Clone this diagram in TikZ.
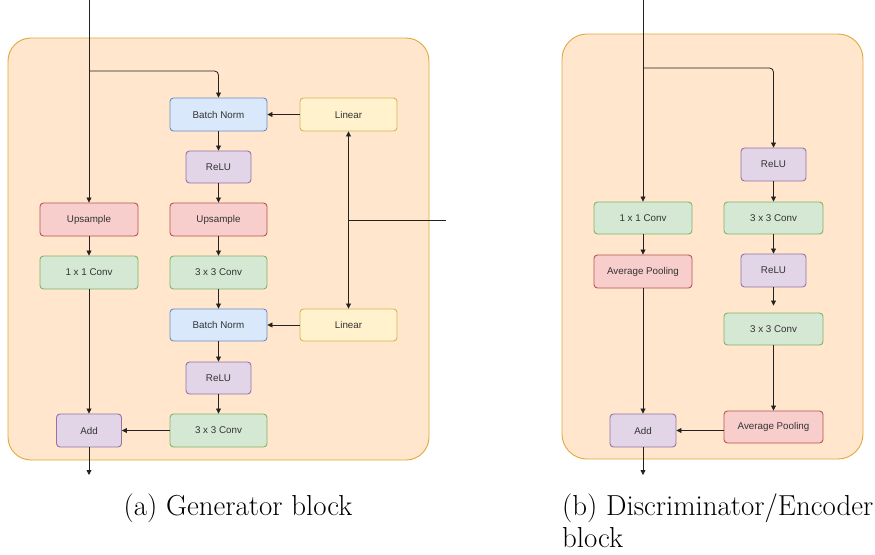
\documentclass[tikz,border=0pt]{standalone}
\usepackage{fontspec}
\newfontfamily\boxfont{Liberation Sans}
\usetikzlibrary{arrows.meta}
\definecolor{bluef}{HTML}{DAE8FC}\definecolor{blued}{HTML}{6C8EBF}
\definecolor{yelf}{HTML}{FFF2CC}\definecolor{yeld}{HTML}{D6B656}
\definecolor{redf}{HTML}{F8CECC}\definecolor{redd}{HTML}{B85450}
\definecolor{grnf}{HTML}{D5E8D4}\definecolor{grnd}{HTML}{82B366}
\definecolor{purf}{HTML}{E1D5E7}\definecolor{purd}{HTML}{9673A6}
\definecolor{orf}{HTML}{FFE6CC}\definecolor{ord}{HTML}{E0A93A}
\definecolor{txt}{HTML}{333333}
\definecolor{ln}{HTML}{222222}
\tikzset{
  blk/.style={rounded corners=3.5pt, line width=0.9pt, inner sep=0pt,
    minimum height=33pt, font=\boxfont\fontsize{9.8}{11}\selectfont, text=txt},
  wide/.style={blk, minimum width=97pt},
  narrow/.style={blk, minimum width=65pt},
  bnbox/.style={wide, fill=bluef, draw=blued},
  linbox/.style={wide, fill=yelf, draw=yeld},
  redbox/.style={wide, fill=redf, draw=redd},
  grnbox/.style={wide, fill=grnf, draw=grnd},
  purbox/.style={narrow, fill=purf, draw=purd},
  arr/.style={draw=ln, line width=0.8pt, -{Triangle[length=5pt,width=5pt]}},
  plain/.style={draw=ln, line width=0.8pt},
  frame/.style={fill=orf, draw=ord, line width=0.9pt},
  captext/.style={font=\fontsize{28.9}{32}\selectfont, inner sep=0pt}
}
\begin{document}
\begin{tikzpicture}[x=1pt,y=-1pt]
\useasboundingbox (0,0) rectangle (875,554);
\fill[white] (0,0) rectangle (875,554);
% ---------- (a) Generator ----------
\draw[frame, rounded corners=23pt] (8,38) rectangle (429,460);
\node[bnbox]  (gbn1) at (218.5,114.5) {Batch Norm};
\node[linbox] (glin1) at (348.5,114.5) {Linear};
\node[purbox, minimum height=32pt] (grelu1) at (218.5,167) {ReLU};
\node[redbox, minimum width=98pt] (gupl) at (89,219.5) {Upsample};
\node[redbox] (gupr) at (218.5,219.5) {Upsample};
\node[grnbox, minimum width=98pt] (gc1) at (89,272.5) {1 x 1 Conv};
\node[grnbox] (gc3) at (218.5,272.5) {3 x 3 Conv};
\node[bnbox, minimum height=32pt]  (gbn2) at (218.5,325) {Batch Norm};
\node[linbox, minimum height=32pt] (glin2) at (348.5,325) {Linear};
\node[purbox, minimum height=32pt] (grelu2) at (218.5,378) {ReLU};
\node[purbox] (gadd) at (89,430.5) {Add};
\node[grnbox] (gc3b) at (218.5,430.5) {3 x 3 Conv};
\coordinate (gin) at (89,0);
\coordinate (gsplit) at (89,71);
\coordinate (gout) at (89,475);
\coordinate (gcond) at (446,220);
\coordinate (gmid) at (348.5,220);
\draw[arr] (gin) -- (gupl.north);
\draw[arr, rounded corners=4pt] (gsplit) -| (gbn1.north);
\draw[arr] (glin1.west) -- (gbn1.east);
\draw[arr] (gbn1) -- (grelu1);
\draw[arr] (grelu1) -- (gupr);
\draw[arr] (gupr) -- (gc3);
\draw[arr] (gc3) -- (gbn2);
\draw[arr] (glin2.west) -- (gbn2.east);
\draw[arr] (gbn2) -- (grelu2);
\draw[arr] (grelu2) -- (gc3b);
\draw[arr] (gc3b.west) -- (gadd.east);
\draw[arr] (gupl) -- (gc1);
\draw[arr] (gc1.south) -- (gadd.north);
\draw[arr] (gadd.south) -- (gout);
\draw[draw=ln, line width=0.8pt, {Triangle[length=5pt,width=5pt]}-{Triangle[length=5pt,width=5pt]}] (glin1.south) -- (glin2.north);
\draw[plain] (gcond) -- (gmid);
\node[captext, anchor=base] (capa) at (238,515) {(a) Generator block};
% ---------- (b) Discriminator ----------
\draw[frame, rounded corners=25pt] (562,34) rectangle (863,459);
\node[purbox] (drelu1) at (773.5,164.5) {ReLU};
\node[grnbox, minimum width=98pt, minimum height=32pt] (dc1) at (643,218) {1 x 1 Conv};
\node[grnbox, minimum width=99pt, minimum height=32pt] (dc3a) at (773.5,218) {3 x 3 Conv};
\node[redbox, minimum width=98pt] (dap1) at (643,271.5) {Average Pooling};
\node[purbox] (drelu2) at (773.5,270.5) {ReLU};
\node[grnbox, minimum width=99pt, minimum height=32pt] (dc3b) at (773.5,329) {3 x 3 Conv};
\node[redbox, minimum width=99pt, minimum height=32pt] (dap2) at (773.5,427) {Average Pooling};
\node[purbox, minimum width=66pt] (dadd) at (643,430.5) {Add};
\coordinate (din) at (643,0);
\coordinate (dsplit) at (643,68);
\coordinate (dout) at (643,475);
\draw[arr] (din) -- (dc1.north);
\draw[arr, rounded corners=4pt] (dsplit) -| (drelu1.north);
\draw[arr] (drelu1) -- (dc3a);
\draw[arr] (dc3a) -- (drelu2);
\draw[arr, shorten >=7pt] (drelu2) -- (dc3b);
\draw[arr] (dc3b) -- (dap2);
\draw[arr] (dap2.west |- dadd.east) -- (dadd.east);
\draw[arr] (dc1) -- (dap1);
\draw[arr] (dap1.south) -- (dadd.north);
\draw[arr] (dadd.south) -- (dout);
\node[captext, anchor=base west] (capb1) at (562,515) {(b) Discriminator/Encoder};
\node[captext, anchor=base west] (capb2) at (562,547) {block};
\end{tikzpicture}
\end{document}
